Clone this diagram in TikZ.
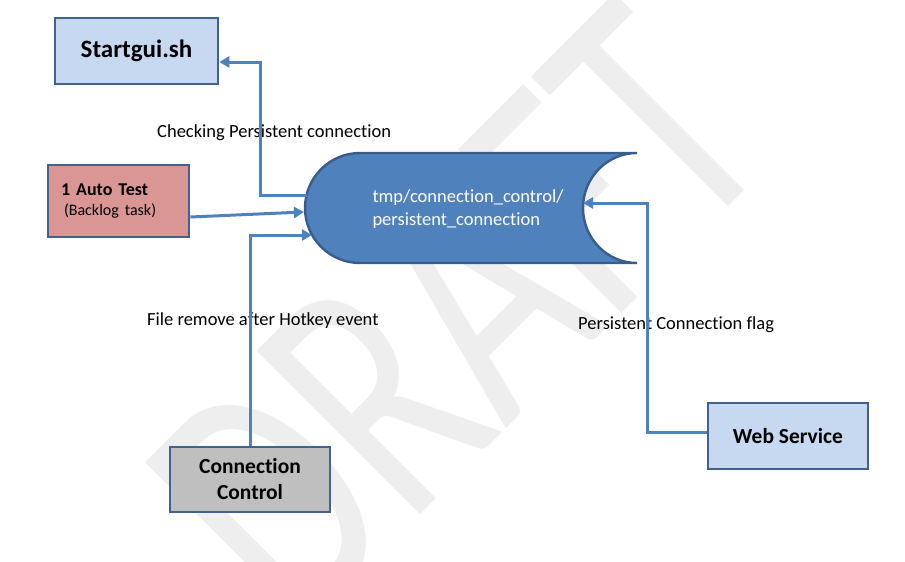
\documentclass[tikz,border=0pt]{standalone}
\usepackage{fontspec}
\setmainfont{Carlito}[Ligatures=NoCommon]
\usetikzlibrary{arrows.meta}
\definecolor{lightbox}{HTML}{C6D9F1}
\definecolor{pinkbox}{HTML}{D99694}
\definecolor{graybox}{HTML}{BFBFBF}
\definecolor{boxline}{HTML}{41618F}
\definecolor{dbfill}{HTML}{4F81BD}
\definecolor{dbline}{HTML}{385D8A}
\definecolor{conn}{HTML}{4F81BD}
\definecolor{wmark}{HTML}{EEEEEE}
\tikzset{
  box/.style={draw=boxline, line width=2.6pt, inner sep=0pt, align=center,
    font=\fontsize{21.5}{26}\selectfont\bfseries},
  lbl/.style={anchor=west, inner sep=0pt, font=\fontsize{18.5}{22}\selectfont},
  arr/.style={draw=conn, line width=3pt, -{Triangle[length=10pt,width=11pt]}},
}
\begin{document}
\begin{tikzpicture}[x=1pt,y=-1pt]
\useasboundingbox (0,0) rectangle (905,562);
% watermark
\begin{scope}[shift={(457,315)}, rotate=45, xscale=0.85, yscale=1.2]
\node[transform shape, text=wmark, inner sep=0pt, font=\fontsize{300}{300}\selectfont] (wm) at (0,0) {DRAFT};
\end{scope}
% labels
\node[lbl] (l1) at (157,133) {Checking Persistent connection};
\node[lbl] (l2) at (147,321) {File remove after Hotkey event};
\node[lbl] (l3) at (578,325) {Persistent Connection flag};
% central store shape
\path[fill=dbfill, draw=dbline, line width=2.4pt]
  (360,153) -- (637,153)
  .. controls (607.2,153) and (583,177.6) .. (583,208)
  .. controls (583,238.4) and (607.2,263) .. (637,263)
  -- (360,263)
  .. controls (329.6,263) and (305,238.4) .. (305,208)
  .. controls (305,177.6) and (329.6,153) .. (360,153) -- cycle;
\node[align=left, text=white, inner sep=0pt, font=\fontsize{18.5}{23}\selectfont] (db) at (468,209)
  {tmp/connection\_control/\\persistent\_connection};
\coordinate (dbA) at (306.5,195);
\coordinate (dbB) at (304,212);
\coordinate (dbC) at (312,235);
\coordinate (dbD) at (583,203);
% boxes
\node[box, fill=lightbox, minimum width=163, minimum height=66, font=\fontsize{25}{30}\selectfont\bfseries] (sg) at (136.5,51) {Startgui.sh};
\node[box, fill=pinkbox, minimum width=141, minimum height=72, text width=115, inner xsep=13, align=left, font=\fontsize{18}{21}\selectfont] (at) at (118.5,201)
  {\textbf{1 Auto Test}\\[-1pt]\hspace*{3pt}{\fontsize{16}{19}\selectfont(Backlog task)}};
\node[box, fill=graybox, minimum width=160, minimum height=65] (cc) at (250,479.5) {Connection\\Control};
\node[box, fill=lightbox, minimum width=160, minimum height=66] (ws) at (788,436) {Web Service};
% connectors
\draw[arr] (dbA) -- (260,195) -- (260,62) -- (sg.east |- 0,62);
\draw[arr] (at.east |- 0,217) -- (dbB);
\draw[arr] (cc.north) -- (250,235) -- (dbC);
\draw[arr] (ws.west |- 0,432) -- (647,432) -- (647,203) -- (dbD);
\end{tikzpicture}
\end{document}
